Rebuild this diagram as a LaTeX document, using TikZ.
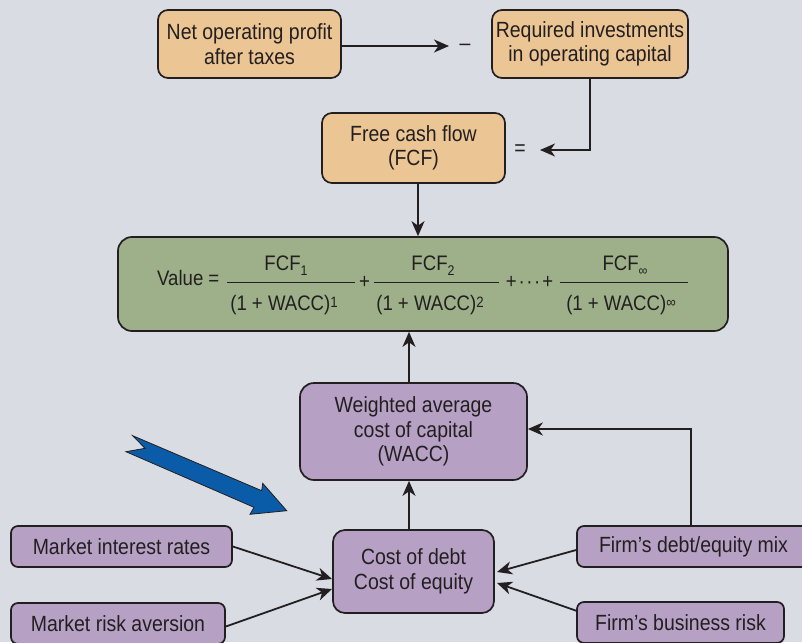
\documentclass[tikz,border=0pt]{standalone}
\usepackage{fontspec}
\setmainfont{Liberation Sans}[FakeStretch=0.885]
\usetikzlibrary{arrows.meta}

\definecolor{bg}{HTML}{D9DCE3}
\definecolor{ink}{HTML}{231F20}
\definecolor{tan}{HTML}{EBC593}
\definecolor{sage}{HTML}{9EB08A}
\definecolor{lilac}{HTML}{B6A0C4}
\definecolor{royal}{HTML}{0B5CA8}

% small lowered / raised indices for the valuation formula
\newcommand\lowidx[1]{\raisebox{-4.3pt}{\fontsize{14}{14}\selectfont #1}}
\newcommand\highidx[1]{\raisebox{2.5pt}{\fontsize{15}{15}\selectfont #1}}

\tikzset{
  box/.style={draw=ink, line width=1.7pt, rounded corners=10pt, inner sep=0pt,
    align=center, text=ink, font=\fontsize{22}{24.5}\selectfont},
  sym/.style={inner sep=0pt, text=ink, font=\fontsize{22}{24}\selectfont},
  ftxt/.style={inner sep=0pt, text=ink, font=\fontsize{21}{24}\selectfont},
  conn/.style={draw=ink, line width=1.8pt,
    -{Stealth[length=15pt,width=13pt,inset=4.5pt]}},
  bar/.style={draw=ink, line width=1.3pt},
}

\begin{document}
\begin{tikzpicture}[x=1pt,y=-1pt]
\useasboundingbox (0,0) rectangle (802,642);
\clip (0,0) rectangle (802,642);
\fill[bg] (0,0) rectangle (802,642);

% --- cash-flow boxes
\node[box, fill=tan, minimum width=183pt, minimum height=68pt] (nopat) at (249.5,44)
  {Net operating profit\\after taxes};
\node[box, fill=tan, minimum width=196pt, minimum height=68pt] (reqinv) at (590,44)
  {Required investments\\in operating capital};
\node[box, fill=tan, minimum width=183pt, minimum height=70pt] (fcf) at (413.5,148)
  {Free cash flow\\(FCF)};
\node[sym] (minus) at (465,47) {–};
\node[sym] (eq) at (520,150) {=};
\coordinate (minusTip) at (449,46);
\coordinate (eqTip) at (540,150);

% --- valuation formula
\node[box, fill=sage, minimum width=610pt, minimum height=94pt, rounded corners=14pt]
  (value) at (423,284) {};
\node[ftxt, anchor=base west] (vlab) at (157,285.5) {Value =};
\draw[bar] (227,282.3) -- (355,282.3);
\draw[bar] (374,282.3) -- (499,282.3);
\draw[bar] (560,282.3) -- (688,282.3);
\node[ftxt] (plusA) at (364.5,282) {+};
\node[ftxt] (plusB) at (529.5,282) {+\hspace{2pt}·\hspace{1.5pt}·\hspace{1.5pt}·\hspace{2pt}+};
\node[ftxt, anchor=base] (num1) at (286,270.7) {FCF\lowidx{1}};
\node[ftxt, anchor=base] (num2) at (433,270.7) {FCF\lowidx{2}};
\node[ftxt, anchor=base] (num3) at (625,270.7) {FCF\lowidx{∞}};
\node[ftxt, anchor=base] (den1) at (284,310) {(1 + WACC)\highidx{1}};
\node[ftxt, anchor=base] (den2) at (430,310) {(1 + WACC)\highidx{2}};
\node[ftxt, anchor=base] (den3) at (621,310) {(1 + WACC)\highidx{∞}};

% --- cost of capital boxes
\node[box, fill=lilac, minimum width=227pt, minimum height=97pt, rounded corners=14pt]
  (wacc) at (413.5,431.5) {Weighted average\\cost of capital\\(WACC)};
\node[box, fill=lilac, minimum width=161pt, minimum height=83pt, rounded corners=12pt]
  (cost) at (413.5,571.5) {Cost of debt\\Cost of equity};
\node[box, fill=lilac, minimum width=221pt, minimum height=41pt, rounded corners=7pt]
  (mir) at (121.5,546.5) {Market interest rates};
\node[box, fill=lilac, minimum width=214pt, minimum height=41pt, rounded corners=7pt]
  (mra) at (118,623.5) {Market risk aversion};
\node[box, fill=lilac, minimum width=233pt, minimum height=41pt, rounded corners=7pt]
  (fdem) at (693.5,546.5) {Firm’s debt/equity mix};
\node[box, fill=lilac, minimum width=207pt, minimum height=41pt, rounded corners=7pt]
  (fbr) at (680.5,622.5) {Firm’s business risk};

\coordinate (costIn1) at (332,579);
\coordinate (costIn2) at (332,589);
\coordinate (costIn3) at (497,572);
\coordinate (costIn4) at (497,583);
\coordinate (fbrOut) at (577,611);

% --- connectors
\draw[conn] (nopat.east |- minusTip) -- (minusTip);
\draw[conn] (reqinv.south) |- (eqTip);
\draw[conn] ([xshift=4.5pt]fcf.south) -- ([xshift=4.5pt]fcf.south |- value.north);
\draw[conn] ([xshift=-4.5pt]wacc.north) -- ([xshift=-4.5pt]wacc.north |- value.south);
\draw[conn] ([xshift=-4.5pt]cost.north) -- ([xshift=-4.5pt]cost.north |- wacc.south);
\draw[conn] ([xshift=-2.5pt]fdem.north) |- ([yshift=2.5pt]wacc.east);
\draw[conn] (mir.east) -- (costIn1);
\draw[conn] ([yshift=-3pt]mra.east) -- (costIn2);
\draw[conn] ([yshift=-3.5pt]fdem.west) -- (costIn3);
\draw[conn] (fbrOut) -- (costIn4);

% --- pointer arrow
\draw[line width=0.8pt, draw=ink, fill=royal, line join=miter]
  (132.7,435.7) -- (145,448.3) -- (126,451.7) -- (254,507.3) -- (250,514.3)
  -- (286.7,510.7) -- (262.7,483.3) -- (261.7,490.7) -- cycle;
\end{tikzpicture}
\end{document}
